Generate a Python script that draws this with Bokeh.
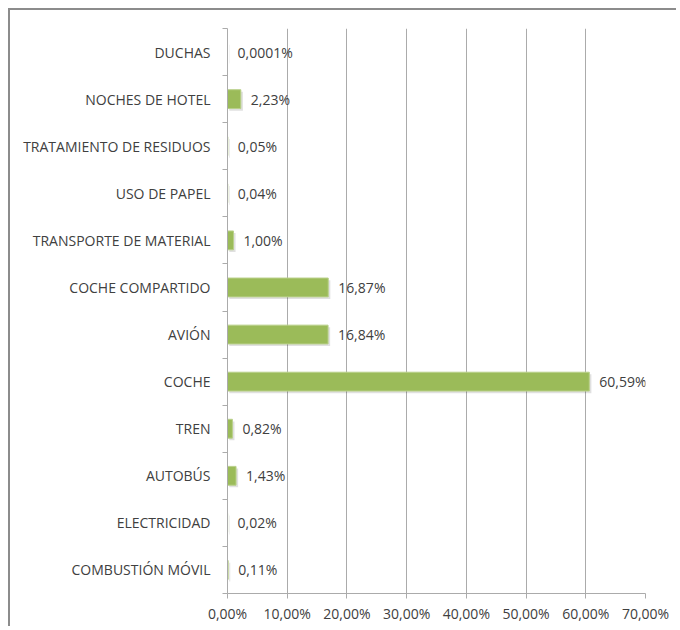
from bokeh.plotting import figure
from bokeh.models import ColumnDataSource, FixedTicker, CustomJSTickFormatter, Range1d, LabelSet
from bokeh.core.properties import value
from bokeh.embed import file_html
from bokeh.resources import INLINE

# Data (top to bottom as displayed)
categories = ["DUCHAS", "NOCHES DE HOTEL", "TRATAMIENTO DE RESIDUOS", "USO DE PAPEL",
              "TRANSPORTE DE MATERIAL", "COCHE COMPARTIDO", "AVIÓN", "COCHE",
              "TREN", "AUTOBÚS", "ELECTRICIDAD", "COMBUSTIÓN MÓVIL"]
values = [0.0001, 2.23, 0.05, 0.04, 1.00, 16.87, 16.84, 60.59, 0.82, 1.43, 0.02, 0.11]
value_labels = ["0,0001%", "2,23%", "0,05%", "0,04%", "1,00%", "16,87%", "16,84%",
                "60,59%", "0,82%", "1,43%", "0,02%", "0,11%"]
x_ticks = [0, 10, 20, 30, 40, 50, 60, 70]

n = len(categories)
ypos = [n - 0.5 - i for i in range(n)]

FONT = "Open Sans"
TXT = "#404040"
GRID = "#ABABAB"

src = ColumnDataSource(dict(
    y=ypos, value=values, label=value_labels,
    ys=[y - 0.045 for y in ypos],
    sl=[0.3 for _ in values],
    sr=[v + 0.35 for v in values],
))

p = figure(width=668, height=618, output_backend="svg", toolbar_location=None,
           x_range=Range1d(0, 70), y_range=Range1d(0, n),
           min_border_left=217, min_border_right=33, min_border_top=18, min_border_bottom=35,
           styles={"border-top": "2px solid #8c8c8c", "border-left": "2px solid #8c8c8c",
                   "margin-top": "8px", "margin-left": "8px"})
p.outline_line_color = None
p.background_fill_color = "white"

# shadow
p.hbar(y="ys", left="sl", right="sr", height=0.4, source=src,
       fill_color="#000000", fill_alpha=0.12, line_color=None)
p.hbar(y="y", left=0, right="value", height=0.4, source=src,
       fill_color="#9BBB59", line_color="#B9D08A", line_width=1)

labels = LabelSet(x="value", y="y", text="label", source=src, x_offset=10,
                  text_baseline="middle", text_font=value(FONT), text_font_size="14px",
                  text_color=TXT)
p.add_layout(labels)

# x axis
p.xaxis.ticker = FixedTicker(ticks=x_ticks)
p.xaxis.formatter = CustomJSTickFormatter(code="return tick.toFixed(2).replace('.', ',') + '%';")
p.xaxis.axis_line_color = GRID
p.xaxis.major_tick_line_color = GRID
p.xaxis.major_tick_out = 5
p.xaxis.major_tick_in = 0
p.xaxis.minor_tick_line_color = None
p.xaxis.major_label_text_font = FONT
p.xaxis.major_label_text_font_size = "14px"
p.xaxis.major_label_text_color = TXT
p.xaxis.major_label_standoff = 5

# y axis
p.yaxis.ticker = FixedTicker(ticks=ypos, minor_ticks=list(range(n + 1)))
p.yaxis.major_label_overrides = {y: c for y, c in zip(ypos, categories)}
p.yaxis.axis_line_color = GRID
p.yaxis.major_tick_line_color = None
p.yaxis.major_tick_out = 0
p.yaxis.major_tick_in = 0
p.yaxis.minor_tick_line_color = GRID
p.yaxis.minor_tick_out = 5
p.yaxis.minor_tick_in = 0
p.yaxis.major_label_text_font = FONT
p.yaxis.major_label_text_font_size = "14px"
p.yaxis.major_label_text_color = TXT
p.yaxis.major_label_standoff = 12

p.xgrid.ticker = FixedTicker(ticks=x_ticks)
p.xgrid.grid_line_color = GRID
p.ygrid.grid_line_color = None

open("out.html", "w").write(file_html(p, INLINE))
